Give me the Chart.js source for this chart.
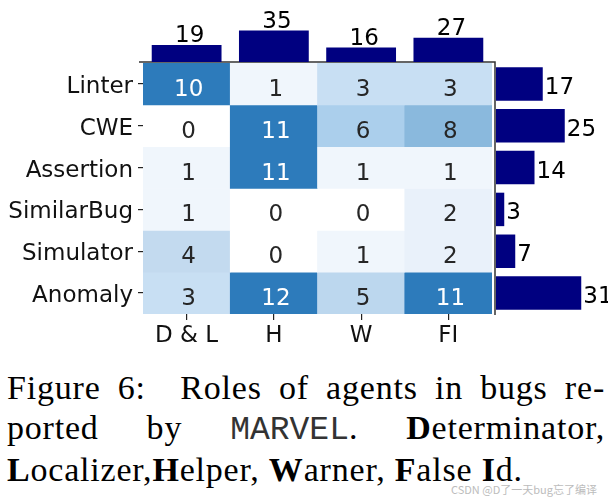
<!DOCTYPE html>
<html>
<head>
<meta charset="utf-8">
<script src="https://cdn.jsdelivr.net/npm/chart.js@4.4.1/dist/chart.umd.min.js"></script>
<style>
  html, body { margin: 0; padding: 0; background: #fff; }
  #wrap { position: relative; width: 608px; height: 498px; overflow: hidden; }
  canvas { position: absolute; left: 0; top: 0; }
  #caption {
    position: absolute; left: 7px; top: 368px; width: 598px;
    font-family: "Liberation Serif", serif; font-size: 34px; line-height: 39.5px;
    letter-spacing: 0.8px; color: #000;
  }
  #caption .j { text-align: justify; text-align-last: justify; white-space: nowrap; }
  #caption b { font-weight: bold; }
  #caption .tt { font-family: "Liberation Mono", monospace; letter-spacing: 0; font-size: 33px; color: #333; }
  #mark {
    position: absolute; left: 451px; top: 481px;
    font-family: "Noto Sans CJK SC", "Noto Sans", sans-serif; font-size: 11px;
    color: #bcbcbc; white-space: nowrap;
  }
</style>
</head>
<body>
<div id="wrap">
  <canvas id="heat" width="608" height="350"></canvas>
  <canvas id="topBars" width="608" height="350"></canvas>
  <canvas id="sideBars" width="608" height="350"></canvas>
  <div id="caption">
    <div class="j">Figure 6:&nbsp; Roles of agents in bugs re-</div>
    <div class="j">ported by <span class="tt">MARVEL</span>. <b>D</b>eterminator,</div>
    <div><b>L</b>ocalizer,<b>H</b>elper, <b>W</b>arner, <b>F</b>alse <b>I</b>d.</div>
  </div>
  <div id="mark">CSDN @D了一天bug忘了编译</div>
</div>
<script>
// datos
const rowLabels = ['Linter', 'CWE', 'Assertion', 'SimilarBug', 'Simulator', 'Anomaly'];
const colLabels = ['D & L', 'H', 'W', 'FI'];
const linterRow = [10, 1, 3, 3];
const cweRow = [0, 11, 6, 8];
const assertionRow = [1, 11, 1, 1];
const similarBugRow = [1, 0, 0, 2];
const simulatorRow = [4, 0, 1, 2];
const anomalyRow = [3, 12, 5, 11];
const colTotals = [19, 35, 16, 27];
const rowTotals = [17, 25, 14, 3, 7, 31];

const counts = [linterRow, cweRow, assertionRow, similarBugRow, simulatorRow, anomalyRow];

// paleta tipo Blues
const cellColors = {
  0: '#ffffff', 1: '#f0f6fc', 2: '#e9f1fa', 3: '#c8dff3', 4: '#c3daef',
  5: '#bcd7ee', 6: '#abcfec', 7: '#9bc4e4', 8: '#8ab9dd', 9: '#5c9bcc'
};
function colorFor(v) {
  return v >= 10 ? '#2d7bbb' : cellColors[v];
}

const FONT = 'DejaVu Sans';
const FSIZE = 23;
const TXT = '#111';

const cellText = {
  id: 'cellText',
  afterDatasetsDraw(chart) {
    const ctx = chart.ctx;
    ctx.save();
    ctx.font = FSIZE + 'px "' + FONT + '"';
    ctx.textAlign = 'center';
    ctx.textBaseline = 'middle';
    chart.data.datasets.forEach((ds, r) => {
      chart.getDatasetMeta(r).data.forEach((el, c) => {
        const v = counts[r][c];
        ctx.fillStyle = v >= 10 ? '#ffffff' : '#262626';
        ctx.fillText(String(v), el.x + 2, (el.y + el.base) / 2 + 6);
      });
    });
    ctx.restore();
  },
  afterDraw(chart) {
    // ejes de los histogramas marginales
    const a = chart.chartArea;
    const ctx = chart.ctx;
    ctx.save();
    ctx.strokeStyle = '#333';
    ctx.lineWidth = 1.5;
    ctx.beginPath();
    ctx.moveTo(a.left - 4, a.top - 1);
    ctx.lineTo(a.right + 3, a.top - 1);
    ctx.lineTo(a.right + 3, a.bottom + 1);
    ctx.stroke();
    ctx.restore();
  }
};

new Chart(document.getElementById('heat'), {
  type: 'bar',
  data: {
    labels: colLabels,
    datasets: counts.map((row, r) => ({
      label: rowLabels[r],
      data: row.map(() => 1),
      backgroundColor: row.map(colorFor),
      borderWidth: 0,
      barPercentage: 1,
      categoryPercentage: 1
    }))
  },
  options: {
    responsive: false,
    animation: false,
    layout: { padding: { left: 0, right: 116, top: 63, bottom: 0 } },
    plugins: { legend: { display: false }, tooltip: { enabled: false } },
    scales: {
      x: {
        stacked: true,
        grid: { offset: false, drawOnChartArea: false, drawTicks: true, tickLength: 6, color: '#222', lineWidth: 1.2 },
        border: { display: false },
        ticks: { color: TXT, font: { family: FONT, size: FSIZE }, padding: 2, maxRotation: 0 },
        afterFit(scale) { scale.height = 36; }
      },
      y: {
        stacked: true,
        reverse: true,
        min: 0,
        max: rowLabels.length,
        grid: { drawOnChartArea: false, drawTicks: true, tickLength: 5, color: '#222', lineWidth: 1.2 },
        border: { display: false },
        afterBuildTicks(scale) {
          scale.ticks = rowLabels.map((_, i) => ({ value: i + 0.5 }));
        },
        ticks: {
          autoSkip: false,
          color: TXT,
          font: { family: FONT, size: FSIZE },
          padding: 5,
          labelOffset: 3,
          callback: (v, i) => rowLabels[i]
        },
        afterFit(scale) { scale.width = 143; }
      }
    }
  },
  plugins: [cellText]
});

const topLabels = {
  id: 'topLabels',
  afterDatasetsDraw(chart) {
    const ctx = chart.ctx;
    ctx.save();
    ctx.font = FSIZE + 'px "' + FONT + '"';
    ctx.fillStyle = '#000';
    ctx.textAlign = 'center';
    ctx.textBaseline = 'alphabetic';
    chart.getDatasetMeta(0).data.forEach((el, i) => {
      ctx.fillText(String(colTotals[i]), el.x + 3, el.y - 3);
    });
    ctx.restore();
  }
};

new Chart(document.getElementById('topBars'), {
  type: 'bar',
  data: {
    labels: colLabels,
    datasets: [{
      data: colTotals,
      backgroundColor: '#000080',
      borderWidth: 0,
      barPercentage: 0.8,
      categoryPercentage: 1
    }]
  },
  options: {
    responsive: false,
    animation: false,
    layout: { padding: { left: 143, right: 116, top: 26, bottom: 288 } },
    plugins: { legend: { display: false }, tooltip: { enabled: false } },
    scales: {
      x: { display: false },
      y: { display: false, min: 0, max: 40 }
    }
  },
  plugins: [topLabels]
});

const sideLabels = {
  id: 'sideLabels',
  afterDatasetsDraw(chart) {
    const ctx = chart.ctx;
    ctx.save();
    ctx.font = FSIZE + 'px "' + FONT + '"';
    ctx.fillStyle = '#000';
    ctx.textAlign = 'left';
    ctx.textBaseline = 'middle';
    chart.getDatasetMeta(0).data.forEach((el, i) => {
      ctx.fillText(String(rowTotals[i]), el.x + 2, el.y + 4);
    });
    ctx.restore();
  }
};

new Chart(document.getElementById('sideBars'), {
  type: 'bar',
  data: {
    labels: rowLabels,
    datasets: [{
      data: rowTotals,
      backgroundColor: '#000080',
      borderWidth: 0,
      barPercentage: 0.8,
      categoryPercentage: 1
    }]
  },
  options: {
    indexAxis: 'y',
    responsive: false,
    animation: false,
    layout: { padding: { left: 496, right: 2, top: 63, bottom: 36 } },
    plugins: { legend: { display: false }, tooltip: { enabled: false } },
    scales: {
      x: { display: false, min: 0, max: 40 },
      y: { display: false }
    }
  },
  plugins: [sideLabels]
});
</script>
</body>
</html>
